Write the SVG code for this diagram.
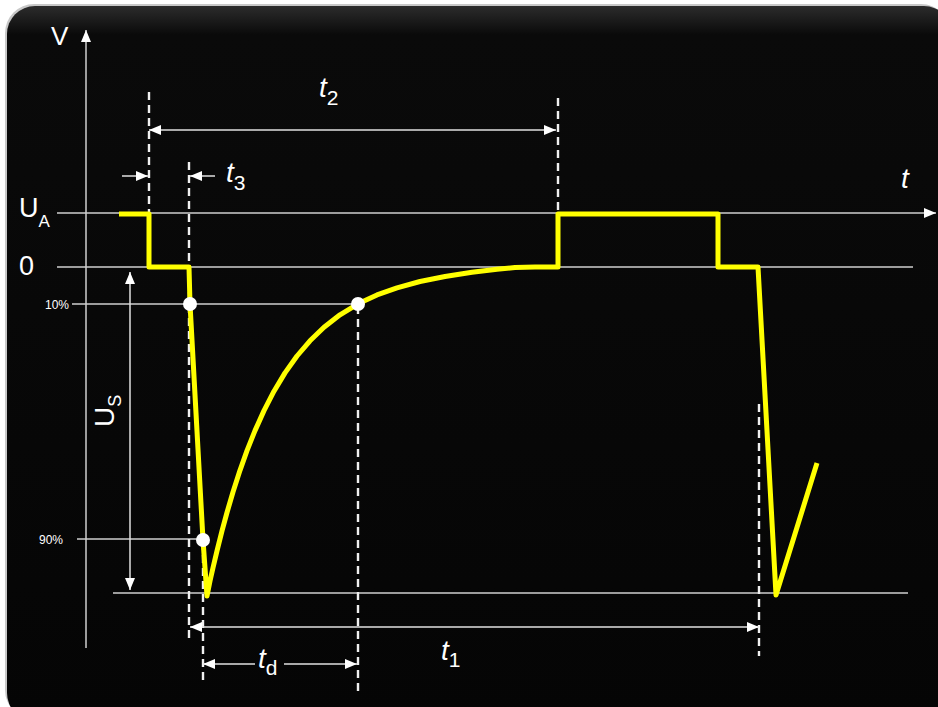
<svg xmlns="http://www.w3.org/2000/svg" width="938" height="707" viewBox="0 0 938 707">
<defs>
<linearGradient id="bg" x1="0" y1="0" x2="0" y2="1">
<stop offset="0" stop-color="#2c2c2c"/>
<stop offset="0.04" stop-color="#0a0a0a"/>
<stop offset="1" stop-color="#050505"/>
</linearGradient>
<marker id="ah" viewBox="0 0 12 10" refX="12" refY="5" markerWidth="12" markerHeight="10" markerUnits="userSpaceOnUse" orient="auto-start-reverse">
<path d="M0,0 L12,5 L0,10 Z" fill="#ffffff"/>
</marker>
<style>
.grid{stroke:#cfcfcf;stroke-width:1.5;fill:none}
.dash{stroke:#f0f0f0;stroke-width:2.4;stroke-dasharray:8 5;fill:none}
.dim{stroke:#e0e0e0;stroke-width:1.5;fill:none}
.wave{stroke:#ffff00;stroke-width:5;fill:none;stroke-linejoin:round;stroke-linecap:butt}
.dot{fill:#ffffff}
.lbl{font-family:"Liberation Sans",Arial,sans-serif;fill:#ffffff}
.it{font-style:italic}
</style>
</defs>
<rect x="0" y="0" width="938" height="707" fill="#ffffff"/>
<rect x="5" y="4" width="945" height="715" rx="29" fill="#c8c8c8"/>
<rect x="7" y="6" width="945" height="715" rx="28" fill="url(#bg)"/>

<g id="axes">
<line class="grid" x1="86" y1="648" x2="86" y2="30" marker-end="url(#ah)"/>
<line class="grid" x1="57" y1="213" x2="936" y2="213" marker-end="url(#ah)"/>
<line class="grid" x1="57" y1="267" x2="913" y2="267"/>
<line class="grid" x1="72" y1="304" x2="358" y2="304"/>
<line class="grid" x1="77" y1="539" x2="203" y2="539"/>
<line class="grid" x1="113" y1="593" x2="908" y2="593"/>
</g>

<g id="connectors">
<line class="dash" x1="149" y1="92" x2="149" y2="213"/>
<line class="dash" x1="189" y1="162" x2="189" y2="640"/>
<line class="dash" x1="203" y1="542" x2="203" y2="680"/>
<line class="dash" x1="358" y1="306" x2="358" y2="692"/>
<line class="dash" x1="558" y1="98" x2="558" y2="213"/>
<line class="dash" x1="759" y1="404" x2="759" y2="656"/>
<line class="dim" x1="149" y1="130" x2="556" y2="130" marker-start="url(#ah)" marker-end="url(#ah)"/>
<line class="dim" x1="122" y1="176" x2="148" y2="176" marker-end="url(#ah)"/>
<line class="dim" x1="215" y1="176" x2="190" y2="176" marker-end="url(#ah)"/>
<line class="dim" x1="130" y1="272" x2="130" y2="590" marker-start="url(#ah)" marker-end="url(#ah)"/>
<line class="dim" x1="190" y1="627" x2="759" y2="627" marker-start="url(#ah)" marker-end="url(#ah)"/>
<line class="dim" x1="255" y1="664" x2="203" y2="664" marker-end="url(#ah)"/>
<line class="dim" x1="284" y1="664" x2="357" y2="664" marker-end="url(#ah)"/>
</g>

<g id="waveform">
<polyline class="wave" points="119,214 149,214 149,267 189,267 190,304 203,540 207,596 210,581.1 213,567.7 217,550.8 222,530.9 227,512.5 233,492 240,470.3 247,450.7 255,430.6 264,410.6 274,391.2 285,372.9 297,356 310,340.8 324,327.2 340,314.8 358,303.8 377,294.9 397,287.9 420,281.5 445,276.5 472,272.2 497,269.2 515,267.6 535,267 558,267 558,214 718,214 718,267 758,267 776,595 817,463"/>
<circle class="dot" cx="190" cy="304" r="7"/>
<circle class="dot" cx="358" cy="304" r="7"/>
<circle class="dot" cx="203" cy="540" r="7"/>
</g>

<g id="labels">
<text class="lbl" x="51" y="45" font-size="26">V</text>
<text class="lbl" x="19" y="217" font-size="27">U<tspan font-size="17" dy="10">A</tspan></text>
<text class="lbl" x="19" y="275" font-size="27">0</text>
<text class="lbl" x="45" y="309" font-size="12">10%</text>
<text class="lbl" x="39" y="544" font-size="12">90%</text>
<text class="lbl" font-size="28" transform="translate(114,427) rotate(-90)">U<tspan font-size="18" dy="7">S</tspan></text>
<text class="lbl" x="319" y="97" font-size="28"><tspan class="it">t</tspan><tspan font-size="21" dy="8">2</tspan></text>
<text class="lbl" x="226" y="182" font-size="28"><tspan class="it">t</tspan><tspan font-size="21" dy="8">3</tspan></text>
<text class="lbl" x="258" y="668" font-size="28"><tspan class="it">t</tspan><tspan font-size="21" dy="7">d</tspan></text>
<text class="lbl" x="441" y="660" font-size="28"><tspan class="it">t</tspan><tspan font-size="21" dy="7">1</tspan></text>
<text class="lbl it" x="901" y="188" font-size="28">t</text>
</g>
</svg>
